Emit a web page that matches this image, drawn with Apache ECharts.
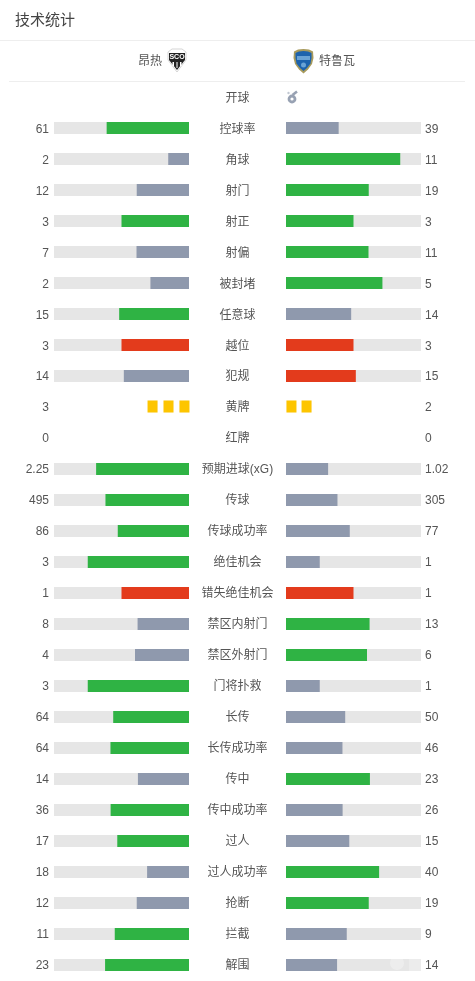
<!DOCTYPE html>
<html><head><meta charset="utf-8">
<style>html,body{margin:0;padding:0;background:#fff}#c{width:475px;height:981px}</style>
<script src="https://cdn.jsdelivr.net/npm/echarts@6/dist/echarts.min.js"></script>
</head><body><div id="c"></div>
<script>
const categories=['开球','控球率','角球','射门','射正','射偏','被封堵','任意球','越位','犯规','黄牌','红牌','预期进球(xG)','传球','传球成功率','绝佳机会','错失绝佳机会','禁区内射门','禁区外射门','门将扑救','长传','长传成功率','传中','传中成功率','过人','过人成功率','抢断','拦截','解围'];
const homeValues=[null,61,2,12,3,7,2,15,3,14,3,0,2.25,495,86,3,1,8,4,3,64,64,14,36,17,18,12,11,23];
const awayValues=[null,39,11,19,3,11,5,14,3,15,2,0,1.02,305,77,1,1,13,6,1,50,46,23,26,15,40,19,9,14];
// g = leading, b = trailing, r = negative stat, '' = no bar
const homeTone=['','g','b','b','g','b','b','g','r','b','','','g','g','g','g','r','b','b','g','g','g','b','g','g','b','b','g','g'];
const awayTone=['','b','g','g','g','g','g','b','r','r','','','b','b','b','b','r','g','g','b','b','b','g','b','b','g','g','b','b'];
const tones={g:'#2fb344',b:'#8f99ad',r:'#e33b1c'};
const share=(a,b,t)=>t?a/(a+b):null;
const isCard=c=>c==='黄牌';
const font='"Liberation Sans","Noto Sans CJK SC",sans-serif';
const txt='#555';
const trackPx=135, cardW=11, cardGap=4;
const barData=(own,other,tone)=>own.map((v,i)=>({value:share(v,other[i],tone[i]),itemStyle:{color:tones[tone[i]]||'transparent'}}));
const cardLen=n=>(n*(cardW+cardGap)-cardGap)/trackPx;
const cardData=(vals)=>categories.map((c,i)=>isCard(c)?{value:cardLen(vals[i]),symbolBoundingData:cardLen(vals[i]),symbolRepeat:vals[i]}:{value:null});
const cardSeries=(x,vals)=>({type:'pictorialBar',xAxisIndex:x,yAxisIndex:x,data:cardData(vals),symbol:'rect',symbolSize:[cardW-1,12],symbolPosition:'start',symbolOffset:[0,-0.5],itemStyle:{color:'#fdc500',borderColor:'#e6ad0c',borderWidth:1},silent:true,z:5,animation:false});
const barSeries=(x,own,other,tone)=>({type:'bar',xAxisIndex:x,yAxisIndex:x,barWidth:12,data:barData(own,other,tone),animation:false,silent:true,z:3});
const track=(x)=>({type:'bar',xAxisIndex:x,yAxisIndex:x,barWidth:12,barGap:'-100%',data:categories.map((c,i)=>homeTone[i]?1:null),itemStyle:{color:'#e6e6e6'},animation:false,silent:true,z:2});
const yBase={type:'category',inverse:true,axisLine:{show:false},axisTick:{show:false},splitLine:{show:false}};
const lbl={fontFamily:font,fontSize:12,color:txt,interval:0};
const xBase={type:'value',min:0,max:1,show:false};
const barGridTop=81.5, labelGridTop=83, gridH=899;
const option={
 animation:false,
 grid:[
  {left:54,width:trackPx,top:barGridTop,height:gridH},
  {left:286,width:trackPx,top:barGridTop,height:gridH},
  {left:54,width:trackPx,top:labelGridTop,height:gridH},
  {left:286,width:trackPx,top:labelGridTop,height:gridH}
 ],
 xAxis:[
  Object.assign({gridIndex:0,inverse:true},xBase),
  Object.assign({gridIndex:1},xBase),
  Object.assign({gridIndex:2},xBase),
  Object.assign({gridIndex:3},xBase)
 ],
 yAxis:[
  Object.assign({gridIndex:0,data:categories,axisLabel:{show:false}},yBase),
  Object.assign({gridIndex:1,data:categories,axisLabel:{show:false}},yBase),
  Object.assign({gridIndex:2,position:'left',data:homeValues.map(v=>v===null?'':String(v)),axisLabel:Object.assign({margin:5},lbl)},yBase),
  Object.assign({gridIndex:2,position:'right',data:categories,axisLabel:Object.assign({margin:48.5,align:'center'},lbl)},yBase),
  Object.assign({gridIndex:3,position:'right',data:awayValues.map(v=>v===null?'':String(v)),axisLabel:Object.assign({margin:4},lbl)},yBase)
 ],
 series:[
  track(0),barSeries(0,homeValues,awayValues,homeTone),
  track(1),barSeries(1,awayValues,homeValues,awayTone),
  cardSeries(0,homeValues),cardSeries(1,awayValues)
 ],
 graphic:[
  {type:'text',x:15,y:13,style:{text:'技术统计',font:'15px '+font,fill:'#444'}},
  {type:'line',shape:{x1:0,y1:40.5,x2:475,y2:40.5},style:{stroke:'#eee',lineWidth:1}},
  {type:'line',shape:{x1:9,y1:81.5,x2:465,y2:81.5},style:{stroke:'#eee',lineWidth:1}},
  {type:'text',x:138,y:55.5,style:{text:'昂热',font:'12px '+font,fill:txt}},
  {type:'text',x:319,y:55.5,style:{text:'特鲁瓦',font:'12px '+font,fill:txt}},
  // Angers crest
  {type:'polygon',shape:{points:[[168,52],[172,49],[182,49],[186,52],[186,60],[177,72],[168,60]]},style:{fill:'#fff',stroke:'#bbb',lineWidth:.6}},
  {type:'polygon',shape:{points:[[169,53],[185,53],[185,60],[177,70],[169,60]]},style:{fill:'#222'}},
  {type:'text',x:177,y:57.5,style:{text:'SCO',font:'bold 7px '+font,fill:'#fff',align:'center',verticalAlign:'middle'}},
  {type:'rect',shape:{x:172.5,y:62,width:1.5,height:4},style:{fill:'#fff'}},
  {type:'rect',shape:{x:176.5,y:62,width:1,height:6},style:{fill:'#fff'}},
  {type:'rect',shape:{x:180,y:62,width:1.5,height:4},style:{fill:'#fff'}},
  // Troyes crest
  {type:'polygon',shape:{points:[[303.5,49],[298,49.5],[294,51.5],[293.5,58],[295,64],[299,69.5],[303.5,73.5],[308,69.5],[312,64],[313.5,58],[313,51.5],[309,49.5]]},style:{fill:'#a89a5c'}},
  {type:'polygon',shape:{points:[[303.5,51],[299,51.5],[295.5,53],[295.5,58],[296.5,63.5],[300,68],[303.5,71],[307,68],[310.5,63.5],[311.5,58],[311.5,53],[308,51.5]]},style:{fill:'#1d63ad'}},
  {type:'rect',shape:{x:297,y:56,width:13,height:4},style:{fill:'#6aa3d5'}},
  {type:'circle',shape:{cx:303.5,cy:65,r:2.5},style:{fill:'#6aa3d5'}},
  // kick-off whistle
  {type:'circle',shape:{cx:292,cy:99,r:3},style:{fill:'none',stroke:'#98a2b3',lineWidth:2.8}},
  {type:'line',shape:{x1:292.5,y1:95,x2:297,y2:91.5},style:{stroke:'#98a2b3',lineWidth:2.6}},
  {type:'circle',shape:{cx:288.5,cy:93,r:1.2},style:{fill:'#c2c8d2'}},
  // faint watermark
  {type:'circle',z:20,shape:{cx:397,cy:963,r:7},style:{fill:'rgba(255,255,255,0.3)'}},
  {type:'rect',z:20,shape:{x:409,y:958,width:12,height:13},style:{fill:'rgba(255,255,255,0.25)'}}
 ]
};
echarts.init(document.getElementById('c'),null,{renderer:'canvas'}).setOption(option);
</script></body></html>
